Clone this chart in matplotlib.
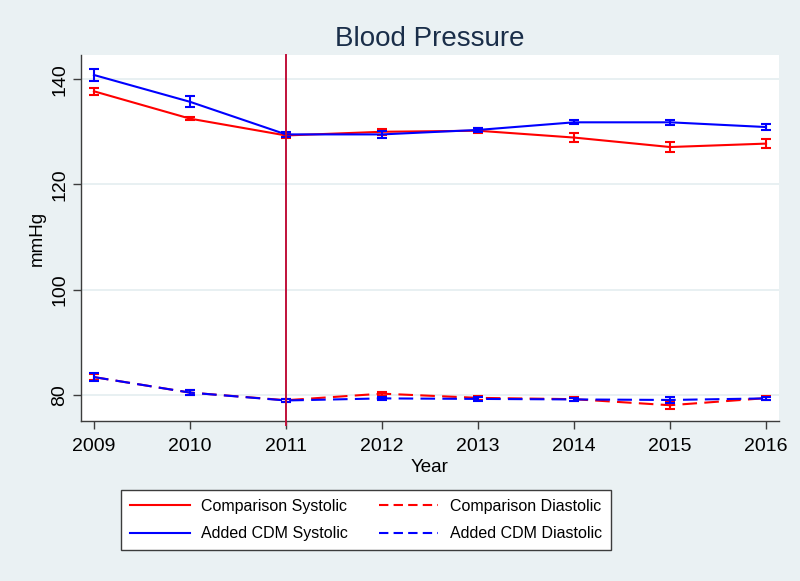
import matplotlib
matplotlib.use('Agg')
import matplotlib.pyplot as plt
from matplotlib.lines import Line2D

plt.rcParams['font.family'] = ['Liberation Sans', 'DejaVu Sans']

# values
years = [2009, 2010, 2011, 2012, 2013, 2014, 2015, 2016]

comp_sys = [137.7, 132.5, 129.3, 130.0, 130.2, 128.9, 127.1, 127.75]
comp_sys_err = [0.65, 0.35, 0.4, 0.55, 0.45, 0.8, 0.9, 0.9]
cdm_sys = [140.8, 135.7, 129.5, 129.5, 130.35, 131.8, 131.8, 130.9]
cdm_sys_err = [1.15, 1.05, 0.5, 0.6, 0.4, 0.4, 0.45, 0.5]

comp_dia = [83.35, 80.4, 78.95, 80.2, 79.4, 79.15, 78.0, 79.35]
comp_dia_err = [0.6, 0.45, 0.3, 0.4, 0.35, 0.35, 0.75, 0.4]
cdm_dia = [83.35, 80.4, 78.9, 79.3, 79.2, 79.1, 79.0, 79.3]
cdm_dia_err = [0.7, 0.5, 0.3, 0.35, 0.35, 0.35, 0.5, 0.35]

series_labels = ['Comparison Systolic', 'Comparison Diastolic',
                 'Added CDM Systolic', 'Added CDM Diastolic']

bg = '#EAF1F3'
grid_c = '#E4EDF0'
red = '#FF0000'
blue = '#0000FF'

fig = plt.figure(figsize=(8, 5.81), dpi=100, facecolor=bg)
ax = fig.add_axes([81 / 800, 1 - 421 / 581, 698 / 800, 366 / 581])
ax.set_facecolor('white')

dash = (0, (7, 3.5))
lw = 1.5
cap = 3.4

ax.errorbar(years, comp_sys, yerr=comp_sys_err, color=red, lw=lw, capsize=cap,
            elinewidth=lw, capthick=lw, zorder=3)
ax.errorbar(years, cdm_sys, yerr=cdm_sys_err, color=blue, lw=lw, capsize=cap,
            elinewidth=lw, capthick=lw, zorder=4)
ax.errorbar(years, comp_dia, yerr=comp_dia_err, color=red, lw=lw, ls=dash,
            capsize=cap, elinewidth=lw, capthick=lw, zorder=3)
ax.errorbar(years, cdm_dia, yerr=cdm_dia_err, color=blue, lw=lw, ls=dash,
            capsize=cap, elinewidth=lw, capthick=lw, zorder=4)

# intervention year marker, runs a little past the axis like the original
ax.axvline(2011, ymin=-0.01, ymax=1, color='#C0103A', lw=1.4, zorder=5,
           clip_on=False)

ax.set_xlim(2008.865, 2016.135)
ax.set_ylim(75.0, 144.6)
ax.set_xticks(years)
ax.set_yticks([80, 100, 120, 140])
ax.grid(axis='y', color=grid_c, lw=1.2)
ax.set_axisbelow(True)

for s in ['top', 'right']:
    ax.spines[s].set_visible(False)
for s in ['left', 'bottom']:
    ax.spines[s].set_color('#3c3c3c')
    ax.spines[s].set_linewidth(1.0)

ax.tick_params(axis='both', labelsize=14, length=6, width=1.0, color='#3c3c3c',
               labelcolor='black')
ax.tick_params(axis='x', pad=6)
ax.tick_params(axis='y', pad=3)
for t in ax.get_yticklabels():
    t.set_rotation(90)
    t.set_va('center')

ax.set_xlabel('Year', fontsize=13.5, labelpad=3)
ax.set_ylabel('mmHg', fontsize=13.5, labelpad=4)

fig.text(430 / 800, 1 - 39 / 581, 'Blood Pressure', ha='center', va='center',
         fontsize=20, color='#1A2E49')

leg_dash = (0, (4.5, 2.5))
handles = [
    Line2D([], [], color=red, lw=lw),
    Line2D([], [], color=blue, lw=lw),
    Line2D([], [], color=red, lw=lw, ls=leg_dash),
    Line2D([], [], color=blue, lw=lw, ls=leg_dash),
]
labels = [series_labels[0], series_labels[2], series_labels[1], series_labels[3]]
leg = fig.legend(handles, labels, ncol=2, loc='center',
                 bbox_to_anchor=(366 / 800, 1 - 520 / 581),
                 fontsize=11.5, frameon=True, fancybox=False,
                 handlelength=3.75, handletextpad=0.7, columnspacing=1.9,
                 labelspacing=0.8, borderpad=0.55)
leg.get_frame().set_edgecolor('#3c3c3c')
leg.get_frame().set_linewidth(1.0)
leg.get_frame().set_facecolor('white')
leg.get_frame().set_alpha(1)

fig.savefig('out.png', dpi=100, facecolor=bg)
